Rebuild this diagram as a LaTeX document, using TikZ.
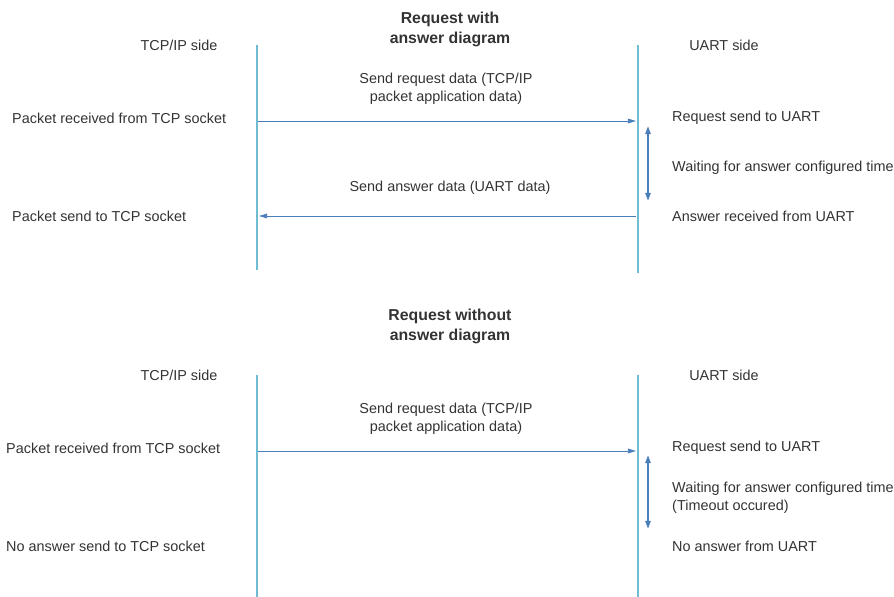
\documentclass[tikz,border=0pt]{standalone}
\usepackage{fontspec}
\setmainfont{Liberation Sans}
\usetikzlibrary{arrows.meta}
\definecolor{lifeblue}{HTML}{70BCD2}
\definecolor{msgblue}{HTML}{4A7EBB}
\definecolor{txtgray}{HTML}{333333}
\tikzset{
  lifeline/.style={draw=lifeblue, line width=2pt},
  msg/.style={draw=msgblue, line width=0.8pt, -{Triangle[length=7pt,width=4pt]}},
  span/.style={draw=msgblue, line width=1.6pt, {Triangle[length=7pt,width=4.5pt]}-{Triangle[length=7pt,width=4.5pt]}},
  lbl/.style={text=txtgray, font=\fontsize{12.3}{15}\selectfont, inner sep=0pt},
  leftlbl/.style={lbl, anchor=west},
  midlbl/.style={lbl, align=center},
  ttl/.style={text=txtgray, font=\fontsize{13.5}{17}\selectfont\bfseries, align=center, inner sep=0pt}
}
\begin{document}
\begin{tikzpicture}[x=0.03cm, y=-0.03cm]
  \useasboundingbox (0,0) rectangle (894,597);
  %%%%%%%%%%%%%%%%%%%%%%%%%%%%%%%%%%%%%%%%%%%%%%
  %%% Request with answer
  %%%%%%%%%%%%%%%%%%%%%%%%%%%%%%%%%%%%%%%%%%%%%%
  \node[ttl] (titleA) at (450,29) {Request with\\answer diagram};
  \node[lbl] (tcpA) at (179,45) {TCP/IP side};
  \node[lbl] (uartA) at (724,45) {UART side};
  % life lines
  \coordinate (tcpAtop) at (257,45);  \coordinate (tcpAbot) at (257,270);
  \coordinate (uartAtop) at (638,45); \coordinate (uartAbot) at (638,273);
  \draw[lifeline] (tcpAtop) -- (tcpAbot);
  \draw[lifeline] (uartAtop) -- (uartAbot);
  % messages
  \coordinate (reqAfrom) at (258,121); \coordinate (reqAto) at (636,121);
  \coordinate (ansAfrom) at (636,216); \coordinate (ansAto) at (259,216);
  \draw[msg] (reqAfrom) -- (reqAto);
  \draw[msg] (ansAfrom) -- (ansAto);
  \node[midlbl] (reqAtxt) at (446,89) {Send request data (TCP/IP\\packet application data)};
  \node[midlbl] (ansAtxt) at (450,188) {Send answer data (UART data)};
  % waiting time
  \coordinate (waitAtop) at (648,126); \coordinate (waitAbot) at (648,201);
  \draw[span] (waitAtop) -- (waitAbot);
  % side notes
  \node[leftlbl] (rcvA) at (12,118) {Packet received from TCP socket};
  \node[leftlbl] (sndA) at (12,216) {Packet send to TCP socket};
  \node[leftlbl] (toUartA) at (672,118) {Request send to UART};
  \node[leftlbl] (waitA) at (672,168) {Waiting for answer configured time};
  \node[leftlbl] (fromUartA) at (672,216) {Answer received from UART};

  %%%%%%%%%%%%%%%%%%%%%%%%%%%%%%%%%%%%%%%%%%%%%%
  %%% Request without answer
  %%%%%%%%%%%%%%%%%%%%%%%%%%%%%%%%%%%%%%%%%%%%%%
  \node[ttl] (titleB) at (450,326) {Request without\\answer diagram};
  \node[lbl] (tcpB) at (179,375) {TCP/IP side};
  \node[lbl] (uartB) at (724,375) {UART side};
  % life lines
  \coordinate (tcpBtop) at (257,375);  \coordinate (tcpBbot) at (257,597);
  \coordinate (uartBtop) at (638,375); \coordinate (uartBbot) at (638,597);
  \draw[lifeline] (tcpBtop) -- (tcpBbot);
  \draw[lifeline] (uartBtop) -- (uartBbot);
  % message
  \coordinate (reqBfrom) at (258,451); \coordinate (reqBto) at (636,451);
  \draw[msg] (reqBfrom) -- (reqBto);
  \node[midlbl] (reqBtxt) at (446,419) {Send request data (TCP/IP\\packet application data)};
  % waiting time
  \coordinate (waitBtop) at (648,455); \coordinate (waitBbot) at (648,529);
  \draw[span] (waitBtop) -- (waitBbot);
  % side notes
  \node[leftlbl] (rcvB) at (6,448) {Packet received from TCP socket};
  \node[leftlbl] (sndB) at (6,546) {No answer send to TCP socket};
  \node[leftlbl] (toUartB) at (672,448) {Request send to UART};
  \node[leftlbl, align=left] (waitB) at (672,498) {Waiting for answer configured time\\(Timeout occured)};
  \node[leftlbl] (fromUartB) at (672,546) {No answer from UART};
\end{tikzpicture}
\end{document}
